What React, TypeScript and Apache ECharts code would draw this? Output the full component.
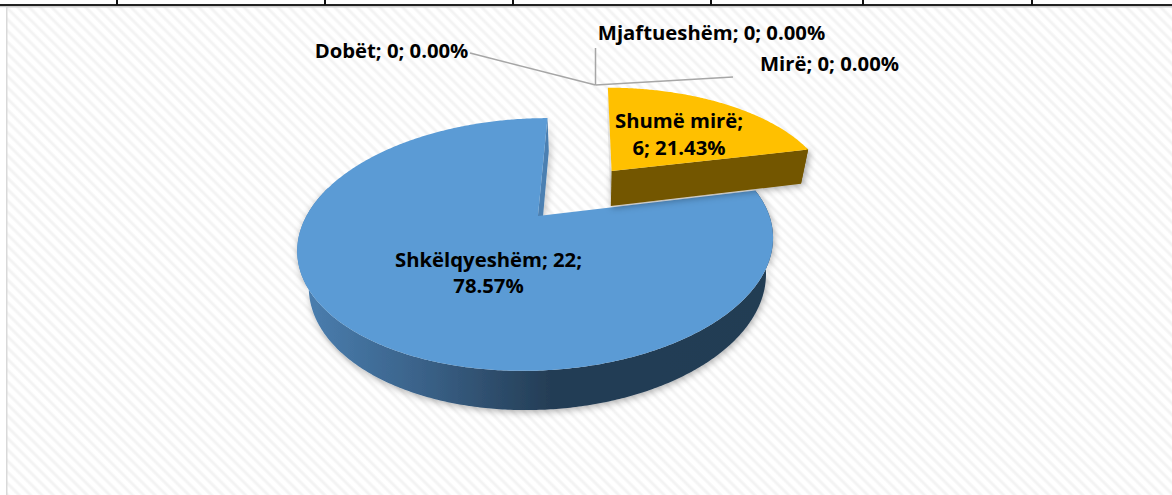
import React, { useEffect, useRef } from "react";
import * as echarts from "echarts";

const categories = ["Dobët", "Mjaftueshëm", "Mirë", "Shumë mirë", "Shkëlqyeshëm"];
const values = [0, 0, 0, 6, 22];
const sliceColors = ["#A5A5A5", "#ED7D31", "#70AD47", "#FFC000", "#5B9BD5"];

// Label layout, per category
const labelCenters = [
  [391.5, 50],
  [711.5, 32],
  [829.5, 63],
  [679, 133.5],
  [488.5, 272],
];
const labelBreaks = [[" ", " "], [" ", " "], [" ", " "], ["\n", " "], [" ", "\n"]];
const leaderEnds = [[470, 53], [595.5, 48], [733, 77]];
const leaderAnchor = [595.5, 85];
const frameTicks = [116, 324, 512, 710, 862, 1031];

// Perspective model of the pie plane
const P = { xv: 590, A: -52, F: 231.5, k: 0.2255, yh: -316, H: 532, E: 58.4, m: 0.0386 };
const explode = 0.262;
const centerOffset = [0.163, 0.205];
const FONT = "Open Sans";

function project(x: number, y: number, bottom: boolean) {
  const X = x + centerOffset[0];
  const Y = y + centerOffset[1];
  const w = 1 + P.k * Y + (bottom ? P.m : 0);
  return [P.xv + (P.F * X + P.A) / w, P.yh + (P.H + (bottom ? P.E : 0)) / w];
}

const total = values.reduce((a, b) => a + b, 0);

function angles(i: number) {
  const before = values.slice(0, i).reduce((a, b) => a + b, 0);
  return [(before / total) * Math.PI * 2, ((before + values[i]) / total) * Math.PI * 2];
}

function darken(hex: string, f: number) {
  const n = parseInt(hex.slice(1), 16);
  const c = [(n >> 16) & 255, (n >> 8) & 255, n & 255].map((v) => Math.round(v * f));
  return `rgb(${c[0]},${c[1]},${c[2]})`;
}

function renderSlice(params: any) {
  const i = params.dataIndex;
  const v = values[i];
  const children: any[] = [];
  const pct = ((v / total) * 100).toFixed(2) + "%";
  const [b1, b2] = labelBreaks[i];
  const text = `${categories[i]};${b1}${v};${b2}${pct}`;
  const [lx, ly] = labelCenters[i];
  const color = sliceColors[i];

  if (v > 0) {
    const [a0, a1] = angles(i);
    const mid = (a0 + a1) / 2;
    const ox = explode * Math.sin(mid);
    const oy = explode * Math.cos(mid);
    const isBig = a1 - a0 > Math.PI;
    const base = isBig ? 1 : 10;
    const arc = (bottom: boolean, onlyFront: boolean) => {
      const pts: number[][] = [];
      const n = Math.ceil((a1 - a0) / 0.01);
      for (let j = 0; j <= n; j++) {
        const a = a0 + ((a1 - a0) * j) / n;
        if (onlyFront && Math.cos(a) > 0.25) continue;
        pts.push(project(ox + Math.sin(a), oy + Math.cos(a), bottom));
      }
      return pts;
    };
    const topArc = arc(false, false);
    const botArc = arc(true, false);
    const apexT = project(ox, oy, false);
    const apexB = project(ox, oy, true);
    const wallFill = isBig
      ? new echarts.graphic.LinearGradient(
          305, 0, 770, 0,
          [
            { offset: 0, color: "#4A7EAF" },
            { offset: 0.25, color: "#3A6289" },
            { offset: 0.53, color: "#243D55" },
            { offset: 1, color: "#233C53" },
          ],
          true
        )
      : darken(color, 0.45);
    const shadow = { shadowColor: "rgba(0,0,0,0.32)", shadowBlur: 7, shadowOffsetY: 2, shadowOffsetX: 1 };

    // Outer rim, front part only
    const frontTop = arc(false, true);
    const frontBot = arc(true, true);
    if (frontTop.length > 1) {
      children.push({
        type: "polygon", z2: base,
        shape: { points: [...frontTop, ...frontBot.slice().reverse()] },
        style: { fill: wallFill, ...shadow },
      });
    }
    // Radial walls
    const startT = topArc[0], startB = botArc[0];
    const endT = topArc[topArc.length - 1], endB = botArc[botArc.length - 1];
    if (isBig) {
      children.push({
        type: "polygon", z2: base + 1,
        shape: { points: [apexT, endT, endB, apexB] },
        style: { fill: "#4C80B2", ...shadow },
      });
    } else {
      children.push({
        type: "polygon", z2: base - 1,
        shape: { points: [apexT, startT, startB, apexB] },
        style: { fill: "rgba(170,170,170,0.3)", shadowColor: "rgba(0,0,0,0.15)", shadowBlur: 5 },
      });
      children.push({
        type: "polygon", z2: base + 1,
        shape: { points: [apexT, endT, endB, apexB] },
        style: { fill: wallFill, ...shadow },
      });
    }
    // Top face
    children.push({
      type: "polygon", z2: base + 2,
      shape: { points: [apexT, ...topArc] },
      style: { fill: color },
    });
  } else {
    const end = leaderEnds[i];
    children.push({
      type: "polyline", z2: 20,
      shape: { points: [leaderAnchor, end] },
      style: { stroke: "#A6A6A6", lineWidth: 1.5, fill: "none" },
    });
  }
  children.push({
    type: "text", z2: 30,
    x: lx, y: ly,
    style: {
      text,
      align: "center",
      verticalAlign: "middle",
      fontFamily: FONT,
      fontWeight: "bold",
      fontSize: 20.3,
      lineHeight: 26.5,
      fill: "#000000",
    },
  });
  return { type: "group", children };
}

export default function App() {
  const ref = useRef<HTMLDivElement>(null);
  useEffect(() => {
    document.body.style.margin = "0";
    const chart = echarts.init(ref.current!, null, { renderer: "svg" });
    chart.setOption({
      animation: false,
      backgroundColor: "transparent",
      tooltip: { show: false },
      graphic: [
        { type: "rect", shape: { x: 0, y: 0, width: 1172, height: 4 }, style: { fill: "#ffffff" } },
        { type: "rect", shape: { x: 0, y: 4, width: 1172, height: 2 }, style: { fill: "#222222" } },
        { type: "rect", shape: { x: 0, y: 6, width: 1172, height: 1.5 }, style: { fill: "#CFCFCF" } },
        { type: "rect", shape: { x: 0, y: 7.5, width: 6, height: 488 }, style: { fill: "#ffffff" } },
        { type: "rect", shape: { x: 6, y: 7, width: 1.5, height: 488 }, style: { fill: "#D9D9D9" } },
        ...frameTicks.map((x) => ({
          type: "rect",
          shape: { x: x, y: 0, width: 2, height: 5 },
          style: { fill: "#111111" },
        })),
      ],
      series: [
        {
          type: "custom",
          coordinateSystem: "none",
          silent: true,
          clip: false,
          data: values.map((v, i) => [i, v]),
          renderItem: renderSlice,
        },
      ],
    });
    return () => chart.dispose();
  }, []);
  return (
    <div
      ref={ref}
      style={{
        position: "absolute",
        left: 0,
        top: 0,
        width: 1172,
        height: 495,
        background:
          "repeating-linear-gradient(45deg, #ffffff 0px, #ffffff 3px, #f3f3f3 5px, #f3f3f3 6px, #ffffff 8px)",
      }}
    />
  );
}
